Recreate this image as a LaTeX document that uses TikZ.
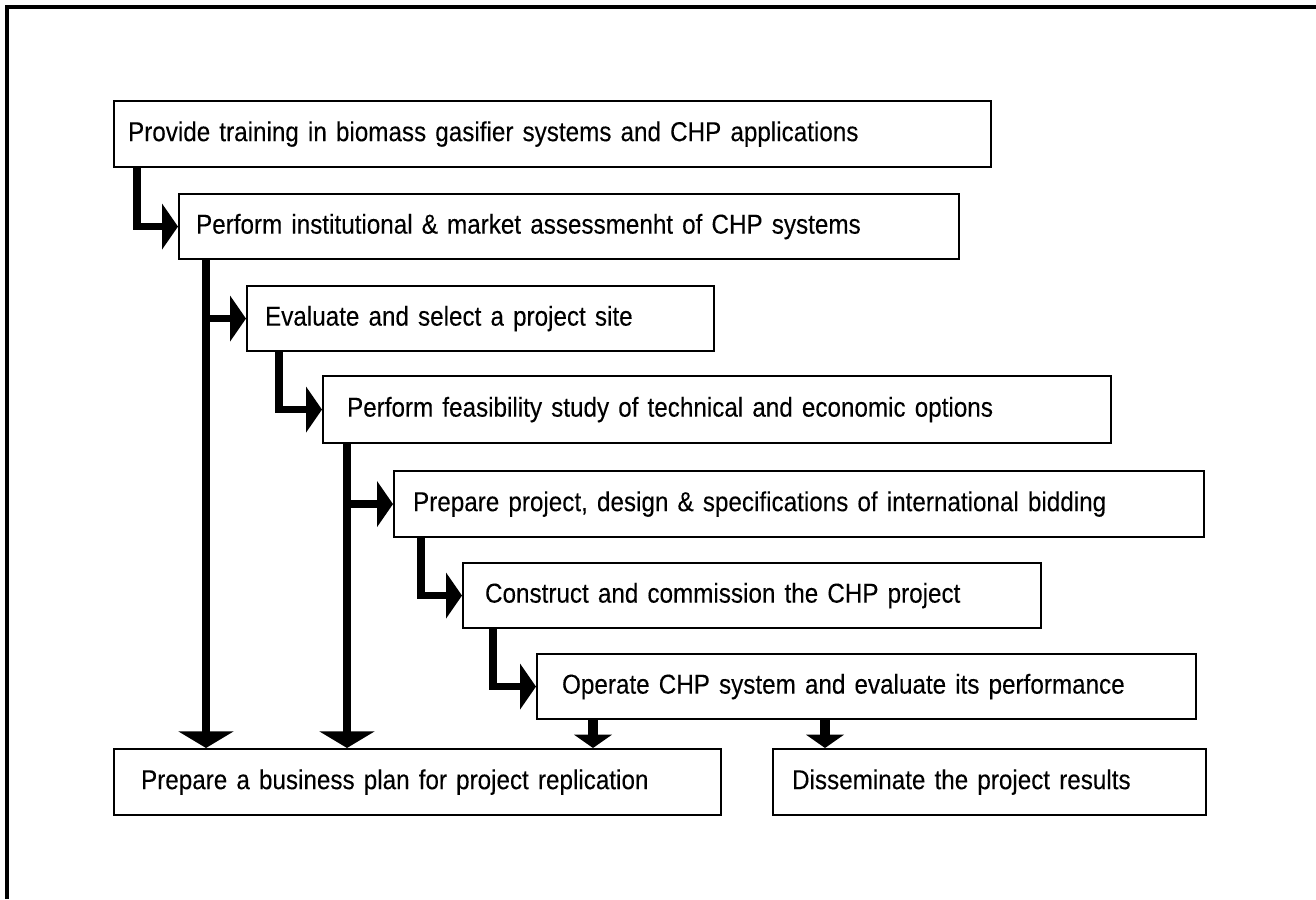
\documentclass[tikz,border=0pt]{standalone}
\usepackage{fontspec}
\setmainfont{Liberation Sans}[FakeStretch=0.887,WordSpace=0.7,FakeBold=0.15]
\usetikzlibrary{arrows.meta}
\tikzset{
  fbox/.style={draw=black, line width=1.6pt, rectangle, align=left, font=\fontsize{20.5}{23}\selectfont, inner ysep=0pt},
  elbow/.style={line width=5.6pt, -{Triangle[width=34pt,length=12pt]}},
  bigdown/.style={line width=6pt, -{Triangle[width=41pt,length=12.5pt]}},
  smalldown/.style={line width=7pt, -{Triangle[width=28pt,length=10pt]}},
  framel/.style={line width=3pt}
}
\newcommand\flowbox[7]{%
  \pgfmathsetmacro\bw{(#4-#2)*0.75}%
  \pgfmathsetmacro\bh{(#5-#3)*0.75}%
  \pgfmathsetmacro\bi{#6*0.75}%
  \pgfmathsetmacro\tw{\bw-2*\bi}%
  \node[fbox, anchor=north west, minimum width=\bw pt, minimum height=\bh pt, inner xsep=\bi pt, text width=\tw pt] (#1) at (#2,#3) {#7};%
}
\begin{document}
\begin{tikzpicture}[x=0.75pt,y=-0.75pt]
\useasboundingbox (0,0) rectangle (1316,899);
% frame (top and left only)
\coordinate (fo) at (7,7);
\coordinate (fr) at (1316,7);
\coordinate (fb) at (7,899);
\draw[framel] (fr) -- (fo) -- (fb);
% boxes
\flowbox{b1}{113}{100}{990}{166}{14}{Provide training in biomass gasifier systems and CHP applications}
\flowbox{b2}{178}{193}{958}{258}{17}{Perform institutional \& market assessmenht of CHP systems}
\flowbox{b3}{246}{285}{713}{350}{18}{Evaluate and select a project site}
\flowbox{b4}{322}{375}{1110}{442}{24}{Perform feasibility study of technical and economic options}
\flowbox{b5}{393}{470}{1203}{536}{19}{Prepare project, design \& specifications of international bidding}
\flowbox{b6}{462}{562}{1040}{627}{22}{Construct and commission the CHP project}
\flowbox{b7}{536}{653}{1195}{718}{25}{Operate CHP system and evaluate its performance}
\flowbox{b8}{113}{748}{720}{814}{27}{Prepare a business plan for project replication}
\flowbox{b9}{772}{748}{1205}{814}{19}{Disseminate the project results}
% connectors
\draw[elbow] (b1.south west) ++(24,0) |- (b2.west);
\path (b2.south west) ++(28,0) coordinate (c2);
\draw[bigdown] (c2) -- (c2 |- b8.north);
\draw[elbow] (c2 |- b3.west) -- (b3.west);
\draw[elbow] (b3.south west) ++(33,0) |- (b4.west);
\path (b4.south west) ++(25,0) coordinate (c4);
\draw[bigdown] (c4) -- (c4 |- b8.north);
\draw[elbow] (c4 |- b5.west) -- (b5.west);
\draw[elbow] (b5.south west) ++(28,0) |- (b6.west);
\draw[elbow] (b6.south west) ++(31,0) |- (b7.west);
\path (b7.south west) ++(57,0) coordinate (c7a);
\path (b7.south west) ++(289,0) coordinate (c7b);
\draw[smalldown] (c7a) -- (c7a |- b8.north);
\draw[smalldown] (c7b) -- (c7b |- b9.north);
\end{tikzpicture}
\end{document}
